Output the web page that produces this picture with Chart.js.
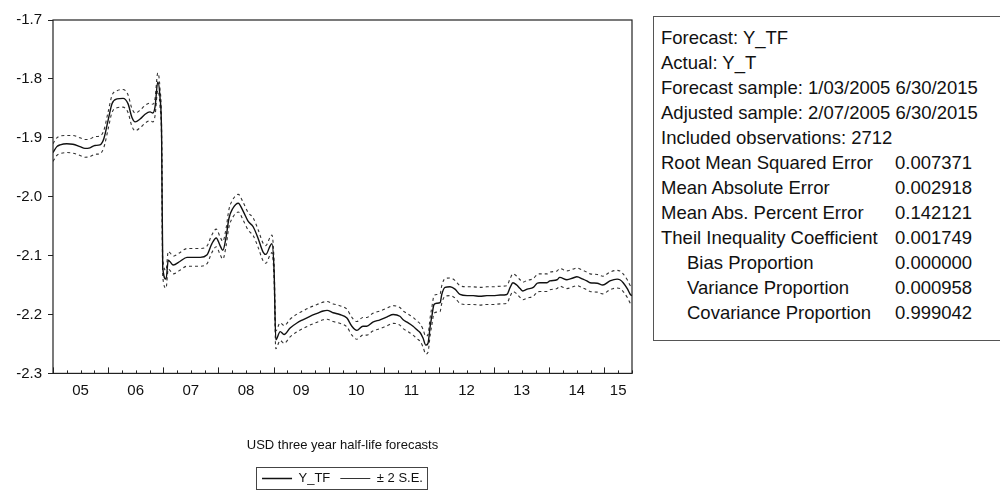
<!DOCTYPE html>
<html>
<head>
<meta charset="utf-8">
<script src="https://cdn.jsdelivr.net/npm/chart.js@4.4.1/dist/chart.umd.min.js"></script>
<style>
  html, body { margin: 0; padding: 0; background: #fff; }
  #wrap { position: relative; width: 1000px; height: 492px; overflow: hidden;
          font-family: "Liberation Sans", Arial, sans-serif; color: #111; }
  #chartBox { position: absolute; left: 0; top: 0; width: 645px; height: 492px; }
  #stats { position: absolute; left: 653px; top: 16px; width: 400px; height: 325px;
           border: 1px solid #555; box-sizing: border-box; font-size: 18.5px; }
  #stats .row { position: absolute; left: 7px; white-space: nowrap; height: 25px; line-height: 25px; }
  #stats .row.sub { left: 33px; }
  #stats .val { position: absolute; top: 0; white-space: nowrap; }
</style>
</head>
<body>
<div id="wrap">
  <div id="chartBox"><canvas id="c" width="645" height="492"></canvas></div>
  <div id="stats"></div>
</div>
<script>
// Forecast dates (decimal years) and the forecast with its +/- 2 S.E. band
const dates = [
  2005.00, 2005.07, 2005.13, 2005.25, 2005.36, 2005.49, 2005.58, 2005.67, 2005.76, 2005.85,
  2005.92, 2006.00, 2006.07, 2006.16, 2006.27, 2006.36, 2006.43, 2006.49, 2006.58, 2006.67,
  2006.76, 2006.81, 2006.85, 2006.90, 2006.94, 2006.97, 2006.99, 2007.05, 2007.09, 2007.12,
  2007.18, 2007.30, 2007.43, 2007.54, 2007.67, 2007.79, 2007.88, 2007.96, 2008.03, 2008.08,
  2008.14, 2008.19, 2008.26, 2008.36, 2008.45, 2008.54, 2008.63, 2008.72, 2008.81, 2008.86,
  2008.94, 2008.97, 2009.01, 2009.04, 2009.12, 2009.19, 2009.30, 2009.43, 2009.53, 2009.66,
  2009.79, 2009.90, 2009.97, 2010.08, 2010.20, 2010.33, 2010.42, 2010.51, 2010.62, 2010.69,
  2010.80, 2010.93, 2011.06, 2011.17, 2011.29, 2011.35, 2011.42, 2011.53, 2011.60, 2011.66,
  2011.71, 2011.76, 2011.80, 2011.84, 2011.87, 2011.91, 2011.96, 2012.02, 2012.05, 2012.11,
  2012.20, 2012.29, 2012.38, 2012.51, 2012.62, 2012.74, 2012.87, 2012.98, 2013.11, 2013.23,
  2013.29, 2013.34, 2013.41, 2013.47, 2013.52, 2013.60, 2013.71, 2013.78, 2013.83, 2013.96,
  2014.01, 2014.14, 2014.19, 2014.32, 2014.43, 2014.50, 2014.61, 2014.68, 2014.74, 2014.87,
  2014.97, 2015.10, 2015.23, 2015.28, 2015.34, 2015.42, 2015.47, 2015.50
];

const forecastYTF = [
  -1.925, -1.915, -1.912, -1.910, -1.911, -1.915, -1.918, -1.917, -1.913, -1.912,
  -1.902, -1.870, -1.842, -1.834, -1.833, -1.842, -1.865, -1.873, -1.868, -1.860,
  -1.856, -1.858, -1.848, -1.805, -1.831, -1.900, -2.120, -2.140, -2.108, -2.110,
  -2.116, -2.110, -2.103, -2.103, -2.103, -2.099, -2.080, -2.070, -2.083, -2.091,
  -2.068, -2.037, -2.020, -2.011, -2.025, -2.042, -2.051, -2.071, -2.094, -2.098,
  -2.083, -2.080, -2.128, -2.243, -2.229, -2.234, -2.223, -2.214, -2.209, -2.203,
  -2.198, -2.194, -2.193, -2.197, -2.200, -2.206, -2.220, -2.227, -2.220, -2.220,
  -2.213, -2.209, -2.204, -2.200, -2.203, -2.209, -2.213, -2.220, -2.226, -2.231,
  -2.240, -2.252, -2.249, -2.220, -2.203, -2.183, -2.181, -2.180, -2.166, -2.154,
  -2.153, -2.157, -2.166, -2.168, -2.168, -2.169, -2.168, -2.168, -2.167, -2.166,
  -2.154, -2.146, -2.150, -2.156, -2.160, -2.157, -2.154, -2.147, -2.146, -2.146,
  -2.143, -2.141, -2.137, -2.141, -2.138, -2.136, -2.140, -2.143, -2.146, -2.147,
  -2.150, -2.143, -2.140, -2.141, -2.146, -2.157, -2.166, -2.168
];

const upperBand = [
  -1.910, -1.900, -1.897, -1.896, -1.896, -1.900, -1.903, -1.902, -1.898, -1.897,
  -1.888, -1.856, -1.828, -1.820, -1.818, -1.827, -1.850, -1.858, -1.853, -1.845,
  -1.841, -1.843, -1.834, -1.790, -1.816, -1.885, -2.105, -2.125, -2.093, -2.095,
  -2.101, -2.095, -2.088, -2.088, -2.088, -2.084, -2.065, -2.055, -2.068, -2.076,
  -2.053, -2.022, -2.005, -1.996, -2.010, -2.027, -2.036, -2.056, -2.079, -2.083,
  -2.068, -2.065, -2.113, -2.228, -2.214, -2.219, -2.208, -2.199, -2.194, -2.188,
  -2.183, -2.179, -2.178, -2.182, -2.185, -2.191, -2.205, -2.212, -2.205, -2.205,
  -2.198, -2.194, -2.189, -2.185, -2.188, -2.194, -2.198, -2.205, -2.211, -2.216,
  -2.225, -2.237, -2.234, -2.205, -2.188, -2.168, -2.166, -2.165, -2.151, -2.139,
  -2.138, -2.142, -2.151, -2.153, -2.153, -2.154, -2.153, -2.153, -2.152, -2.151,
  -2.139, -2.131, -2.135, -2.141, -2.145, -2.142, -2.139, -2.132, -2.131, -2.131,
  -2.128, -2.126, -2.122, -2.126, -2.123, -2.121, -2.125, -2.128, -2.131, -2.132,
  -2.135, -2.128, -2.125, -2.126, -2.131, -2.142, -2.151, -2.153
];

const lowerBand = [
  -1.940, -1.930, -1.927, -1.925, -1.926, -1.930, -1.933, -1.932, -1.928, -1.927,
  -1.917, -1.885, -1.857, -1.849, -1.848, -1.857, -1.880, -1.888, -1.883, -1.875,
  -1.871, -1.873, -1.863, -1.820, -1.846, -1.915, -2.135, -2.155, -2.123, -2.125,
  -2.131, -2.125, -2.118, -2.118, -2.118, -2.114, -2.095, -2.085, -2.098, -2.106,
  -2.083, -2.052, -2.035, -2.026, -2.040, -2.057, -2.066, -2.086, -2.109, -2.113,
  -2.098, -2.095, -2.143, -2.258, -2.244, -2.249, -2.238, -2.229, -2.224, -2.218,
  -2.213, -2.209, -2.208, -2.212, -2.215, -2.221, -2.235, -2.242, -2.235, -2.235,
  -2.228, -2.224, -2.219, -2.215, -2.218, -2.224, -2.228, -2.235, -2.241, -2.246,
  -2.255, -2.267, -2.264, -2.235, -2.218, -2.198, -2.196, -2.195, -2.181, -2.169,
  -2.168, -2.172, -2.181, -2.183, -2.183, -2.184, -2.183, -2.183, -2.182, -2.181,
  -2.169, -2.161, -2.165, -2.171, -2.175, -2.172, -2.169, -2.162, -2.161, -2.161,
  -2.158, -2.156, -2.152, -2.156, -2.153, -2.151, -2.155, -2.158, -2.161, -2.162,
  -2.165, -2.158, -2.155, -2.156, -2.161, -2.172, -2.181, -2.183
];

// Year labels along the time axis and where each one sits
const yearLabels = ['05', '06', '07', '08', '09', '10', '11', '12', '13', '14', '15'];
const yearLabelPos = [2005.5, 2006.5, 2007.5, 2008.5, 2009.5, 2010.5, 2011.5, 2012.5, 2013.5, 2014.5, 2015.25];

// Forecast evaluation table
const statLabels = [
  'Forecast: Y_TF',
  'Actual: Y_T',
  'Forecast sample: 1/03/2005 6/30/2015',
  'Adjusted sample: 2/07/2005 6/30/2015',
  'Included observations: 2712',
  'Root Mean Squared Error',
  'Mean Absolute Error',
  'Mean Abs. Percent Error',
  'Theil Inequality Coefficient',
  'Bias Proportion',
  'Variance Proportion',
  'Covariance Proportion'
];
const statValues = ['', '', '', '', '', '0.007371', '0.002918', '0.142121', '0.001749', '0.000000', '0.000958', '0.999042'];
const statIndented = [false, false, false, false, false, false, false, false, false, true, true, true];

// Build the statistics panel
const stats = document.getElementById('stats');
statLabels.forEach((lab, i) => {
  const row = document.createElement('div');
  row.className = 'row' + (statIndented[i] ? ' sub' : '');
  row.style.top = (8 + i * 25) + 'px';
  row.textContent = lab;
  if (statValues[i]) {
    const v = document.createElement('span');
    v.className = 'val';
    v.style.left = (234 - (statIndented[i] ? 26 : 0)) + 'px';
    v.textContent = statValues[i];
    row.appendChild(v);
  }
  stats.appendChild(row);
});

const toPoints = arr => arr.map((y, i) => ({ x: dates[i], y: y }));

// Quarterly tick positions across the sample
const xMin = 2005, xMax = 2015.5;
const quarterTicks = [];
for (let q = 0; xMin + q * 0.25 <= xMax + 1e-9; q++) quarterTicks.push(+(xMin + q * 0.25).toFixed(2));

const labelFor = v => {
  const k = yearLabelPos.findIndex(p => Math.abs(p - v) < 1e-6);
  return k >= 0 ? yearLabels[k] : '';
};

// Frame around the plot, inward ticks on the time axis, box around the legend
const framePlugin = {
  id: 'frame',
  afterDatasetsDraw(chart) {
    const { ctx, chartArea: a, scales } = chart;
    ctx.save();
    ctx.strokeStyle = '#222';
    ctx.lineWidth = 1.2;
    ctx.strokeRect(a.left, a.top, a.right - a.left, a.bottom - a.top);
    ctx.lineWidth = 1;
    const xs = scales.x;
    xs.ticks.forEach(t => {
      const px = Math.round(xs.getPixelForValue(t.value)) + 0.5;
      const whole = Math.abs(t.value - Math.round(t.value)) < 1e-6;
      ctx.beginPath();
      ctx.moveTo(px, a.bottom);
      ctx.lineTo(px, a.bottom - (whole ? 6 : 3));
      ctx.stroke();
    });
    ctx.restore();
  },
  afterDraw(chart) {
    const lg = chart.legend;
    if (!lg || !lg.legendHitBoxes || !lg.legendHitBoxes.length) return;
    const boxes = lg.legendHitBoxes;
    let l = Infinity, r = -Infinity, t = Infinity, b = -Infinity;
    boxes.forEach(h => { l = Math.min(l, h.left); r = Math.max(r, h.left + h.width); t = Math.min(t, h.top); b = Math.max(b, h.top + h.height); });
    const ctx = chart.ctx;
    ctx.save();
    ctx.strokeStyle = '#444';
    ctx.lineWidth = 1;
    ctx.strokeRect(Math.round(l - 6) + 0.5, Math.round(t - 5) + 0.5, Math.round(r - l + 10), Math.round(b - t + 9));
    ctx.restore();
  }
};

new Chart(document.getElementById('c'), {
  type: 'line',
  data: {
    datasets: [
      { label: 'Y_TF', data: toPoints(forecastYTF), borderColor: '#111', backgroundColor: '#111',
        borderWidth: 1.4, pointRadius: 0, cubicInterpolationMode: 'monotone', order: 0 },
      { label: '\u00b1 2 S.E.', data: toPoints(upperBand), borderColor: '#333', backgroundColor: '#333',
        borderWidth: 1.1, borderDash: [3, 3], pointRadius: 0, cubicInterpolationMode: 'monotone', order: 1 },
      { label: 'lower', data: toPoints(lowerBand), borderColor: '#333', backgroundColor: '#333',
        borderWidth: 1.1, borderDash: [3, 3], pointRadius: 0, cubicInterpolationMode: 'monotone', order: 1 }
    ]
  },
  options: {
    responsive: false,
    animation: false,
    events: [],
    layout: { padding: { left: 0, right: 13, top: 20, bottom: -3 } },
    scales: {
      x: {
        type: 'linear', min: xMin, max: xMax,
        afterBuildTicks: s => { s.ticks = quarterTicks.map(v => ({ value: v })); },
        afterFit: s => { s.height = 30; },
        ticks: { autoSkip: false, maxRotation: 0, minRotation: 0, padding: 8, color: '#111',
                 font: { family: 'Liberation Sans', size: 15 }, callback: v => labelFor(v) },
        grid: { display: false, drawTicks: false },
        border: { display: false }
      },
      y: {
        min: -2.3, max: -1.7,
        afterFit: s => { s.width = 53; },
        ticks: { stepSize: 0.1, padding: 6, color: '#111', font: { family: 'Liberation Sans', size: 15 },
                 callback: v => v.toFixed(1) },
        grid: { drawOnChartArea: false, tickLength: 5, color: '#222' },
        border: { display: false }
      }
    },
    plugins: {
      title: {
        display: true, position: 'bottom', fullSize: false, weight: 500,
        text: 'USD three year half-life forecasts', color: '#111',
        font: { family: 'Liberation Sans', size: 13, weight: 'normal' },
        padding: { top: 34, bottom: 9 }
      },
      legend: {
        display: true, position: 'bottom', fullSize: false, weight: 1000,
        labels: {
          filter: item => item.datasetIndex !== 2,
          boxWidth: 30, boxHeight: 0, color: '#111', padding: 10,
          font: { family: 'Liberation Sans', size: 13 }
        }
      },
      tooltip: { enabled: false }
    }
  },
  plugins: [framePlugin]
});
</script>
</body>
</html>
